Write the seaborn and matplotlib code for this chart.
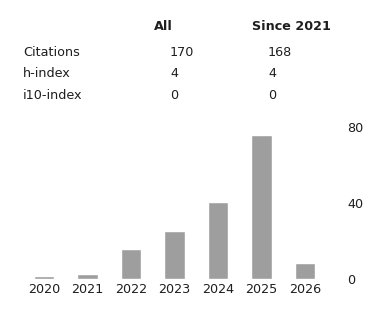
import matplotlib
matplotlib.use("Agg")
import matplotlib.pyplot as plt
import seaborn as sns
import pandas as pd

years = ["2020", "2021", "2022", "2023", "2024", "2025", "2026"]
citations = [1.5, 2.7, 15.8, 25.3, 40.8, 75.8, 8.8]
yticks = [0, 40, 80]

col_headers = ["All", "Since 2021"]
row_labels = ["Citations", "h-index", "i10-index"]
all_vals = ["170", "4", "0"]
since_vals = ["168", "4", "0"]

sns.set_theme(style="white")
plt.rcParams["font.family"] = ["DejaVu Sans"]

W, H = 379, 314
fig = plt.figure(figsize=(W / 100, H / 100), dpi=100)
fig.patch.set_facecolor("white")

def px(x, y):
    return x / W, 1 - y / H

txt = "#1e1e1e"
fs = 9.2
# header
fig.text(*px(154, 26), col_headers[0], ha="left", va="center", fontsize=fs, fontweight="bold", color=txt)
fig.text(*px(252, 26), col_headers[1], ha="left", va="center", fontsize=fs, fontweight="bold", color=txt)
row_y = [52, 74, 96]
for lab, a, s, y in zip(row_labels, all_vals, since_vals, row_y):
    fig.text(*px(23, y), lab, ha="left", va="center", fontsize=fs, color=txt)
    fig.text(*px(170, y), a, ha="left", va="center", fontsize=fs, color=txt)
    fig.text(*px(268, y), s, ha="left", va="center", fontsize=fs, color=txt)

# bar axes
left, right = 22.3, 326.7
bottom, top = 279.3, 127.5
ax = fig.add_axes([left / W, 1 - bottom / H, (right - left) / W, (bottom - top) / H])
df = pd.DataFrame({"year": years, "cites": citations})
sns.barplot(data=df, x="year", y="cites", color="#9e9e9e", saturation=1, width=0.47, ax=ax)
ax.set_xlim(-0.5, len(years) - 0.5)
ax.set_ylim(0, 80)
ax.set_yticks(yticks)
ax.yaxis.tick_right()
ax.set_xlabel("")
ax.set_ylabel("")
for sp in ax.spines.values():
    sp.set_visible(False)
ax.tick_params(axis="y", length=0, pad=15, labelsize=fs, labelcolor=txt)
ax.tick_params(axis="x", length=0, pad=3, labelsize=fs, labelcolor=txt)
ax.set_facecolor("white")
ax.grid(False)

fig.savefig("out.png", dpi=100, facecolor="white")
